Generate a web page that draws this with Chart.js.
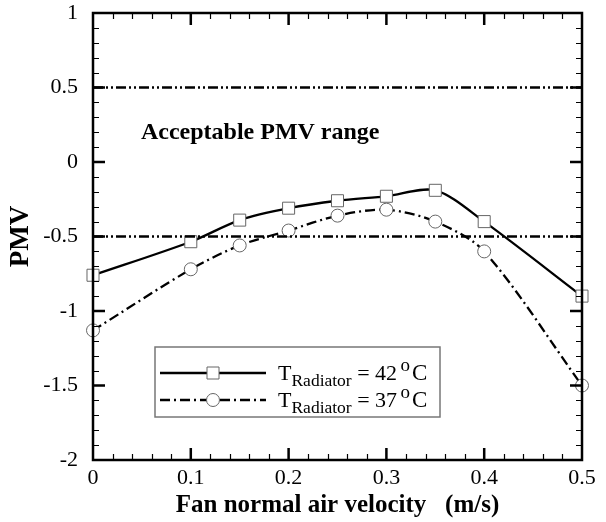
<!DOCTYPE html>
<html>
<head>
<meta charset="utf-8">
<script src="https://cdn.jsdelivr.net/npm/chart.js@4.4.0/dist/chart.umd.min.js"></script>
<style>
  html, body { margin: 0; padding: 0; background: #fff; }
  #wrap { width: 606px; height: 522px; }
</style>
</head>
<body>
<div id="wrap"><canvas id="pmvChart"></canvas></div>
<script>
// fan velocity (m/s) and PMV for both radiator temperatures
const velocity = [0, 0.1, 0.15, 0.2, 0.25, 0.3, 0.35, 0.4, 0.5]
const pmv42 = [-0.76, -0.535, -0.39, -0.31, -0.26, -0.23, -0.19, -0.40, -0.90]
const pmv37 = [-1.13, -0.72, -0.56, -0.46, -0.36, -0.32, -0.40, -0.60, -1.50]

// acceptable range limits
const limitX = [0, 0.5]
const upperLimit = [0.5, 0.5]
const lowerLimit = [-0.5, -0.5]

const legendTemps = ['42', '37']

const serif = "'Liberation Serif', 'Times New Roman', serif"
Chart.defaults.font.family = serif
Chart.defaults.color = '#000'

const toXY = (xs, ys) => xs.map((x, i) => ({x: x, y: ys[i]}))

const DASH_DOT = [10, 4, 2, 4]
const DASH_DOT_DOT = [10, 3, 2, 3, 2, 3]

// frame with inward ticks on all four sides, plus the text bits
const framePlugin = {
  id: 'framePlugin',
  afterDatasetsDraw(chart) {
    const {ctx, chartArea: a, scales: {x, y}} = chart
    ctx.save()
    ctx.strokeStyle = '#000'

    // minor ticks
    ctx.lineWidth = 1.2
    ctx.beginPath()
    for (let i = 0; i <= 25; i++) {
      if (i % 5 === 0) continue
      const px = Math.round(x.getPixelForValue(i * 0.02)) + 0.5
      ctx.moveTo(px, a.bottom); ctx.lineTo(px, a.bottom - 6)
      ctx.moveTo(px, a.top); ctx.lineTo(px, a.top + 6)
    }
    for (let i = 0; i <= 30; i++) {
      if (i % 5 === 0) continue
      const py = Math.round(y.getPixelForValue(-2 + i * 0.1)) + 0.5
      ctx.moveTo(a.left, py); ctx.lineTo(a.left + 6, py)
      ctx.moveTo(a.right, py); ctx.lineTo(a.right - 6, py)
    }
    ctx.stroke()

    // major ticks
    ctx.lineWidth = 2.5
    ctx.beginPath()
    for (let i = 1; i < 5; i++) {
      const px = x.getPixelForValue(i * 0.1)
      ctx.moveTo(px, a.bottom); ctx.lineTo(px, a.bottom - 12)
      ctx.moveTo(px, a.top); ctx.lineTo(px, a.top + 12)
    }
    for (let i = 1; i < 6; i++) {
      const py = y.getPixelForValue(-2 + i * 0.5)
      ctx.moveTo(a.left, py); ctx.lineTo(a.left + 12, py)
      ctx.moveTo(a.right, py); ctx.lineTo(a.right - 12, py)
    }
    ctx.stroke()

    ctx.lineWidth = 2.5
    ctx.strokeRect(a.left, a.top, a.right - a.left, a.bottom - a.top)

    // range label
    ctx.fillStyle = '#000'
    ctx.font = 'bold 24px ' + serif
    ctx.textBaseline = 'alphabetic'
    ctx.fillText('Acceptable PMV range', x.getPixelForValue(0.049), y.getPixelForValue(0.153))

    // legend box
    const bx = a.left + 62, by = a.top + 334, bw = 285, bh = 70
    ctx.fillStyle = '#fff'
    ctx.fillRect(bx, by, bw, bh)
    ctx.strokeStyle = '#777'
    ctx.lineWidth = 1.5
    ctx.strokeRect(bx, by, bw, bh)

    const rows = [
      {dy: 26, dash: [], marker: 'rect'},
      {dy: 53, dash: DASH_DOT, marker: 'circle'}
    ]
    rows.forEach((r, i) => {
      const ly = by + r.dy
      ctx.strokeStyle = '#000'
      ctx.lineWidth = 2.3
      ctx.setLineDash(r.dash)
      ctx.beginPath()
      ctx.moveTo(bx + 5, ly); ctx.lineTo(bx + 111, ly)
      ctx.stroke()
      ctx.setLineDash([])
      ctx.fillStyle = '#fff'
      ctx.strokeStyle = '#666'
      ctx.lineWidth = 1
      const mx = bx + 58
      ctx.beginPath()
      if (r.marker === 'rect') ctx.rect(mx - 6, ly - 6, 12, 12)
      else ctx.arc(mx, ly, 6.5, 0, Math.PI * 2)
      ctx.fill(); ctx.stroke()

      const base = ly + 7
      let tx = bx + 123
      ctx.fillStyle = '#000'
      ctx.font = '22px ' + serif
      ctx.fillText('T', tx, base)
      tx += ctx.measureText('T').width
      ctx.font = '17.5px ' + serif
      ctx.fillText('Radiator', tx, base + 6)
      tx += ctx.measureText('Radiator').width
      ctx.font = '22px ' + serif
      const mid = ' = ' + legendTemps[i] + ' '
      ctx.fillText(mid, tx, base)
      tx += ctx.measureText(mid).width - 2
      ctx.font = '19px ' + serif
      ctx.fillText('o', tx, base - 9)
      tx += ctx.measureText('o').width + 2
      ctx.font = '23px ' + serif
      ctx.fillText('C', tx, base)
    })
    ctx.restore()
  }
}

const config = {
  type: 'line',
  data: {
    datasets: [
      {
        label: 'upper limit',
        data: toXY(limitX, upperLimit),
        borderColor: '#000',
        borderWidth: 2.5,
        borderDash: DASH_DOT_DOT,
        pointRadius: 0
      },
      {
        label: 'lower limit',
        data: toXY(limitX, lowerLimit),
        borderColor: '#000',
        borderWidth: 2.5,
        borderDash: DASH_DOT_DOT,
        pointRadius: 0
      },
      {
        label: 'T Radiator = 42 oC',
        data: toXY(velocity, pmv42),
        borderColor: '#000',
        borderWidth: 2.3,
        tension: 0.3,
        pointStyle: 'rect',
        pointRadius: 8.5,
        pointBackgroundColor: '#fff',
        pointBorderColor: '#666',
        pointBorderWidth: 1,
        clip: false
      },
      {
        label: 'T Radiator = 37 oC',
        data: toXY(velocity, pmv37),
        borderColor: '#000',
        borderWidth: 2.3,
        borderDash: DASH_DOT,
        tension: 0.3,
        pointStyle: 'circle',
        pointRadius: 6.5,
        pointBackgroundColor: '#fff',
        pointBorderColor: '#666',
        pointBorderWidth: 1,
        clip: false
      }
    ]
  },
  options: {
    responsive: true,
    maintainAspectRatio: false,
    animation: false,
    layout: { padding: { top: 13, right: 24, left: 0, bottom: 0 } },
    plugins: {
      legend: { display: false },
      tooltip: { enabled: false }
    },
    scales: {
      x: {
        type: 'linear',
        min: 0,
        max: 0.5,
        afterFit: s => { s.height = 62; s.paddingLeft = 0; s.paddingRight = 0 },
        grid: { display: false, drawTicks: false },
        border: { display: false },
        ticks: { stepSize: 0.1, padding: 5, font: { size: 22 }, maxRotation: 0 },
        title: {
          display: true,
          text: 'Fan normal air velocity   (m/s)',
          font: { size: 25, weight: 'bold' },
          padding: { top: 0, bottom: 1 }
        }
      },
      y: {
        min: -2,
        max: 1,
        afterFit: s => { s.width = 93; s.paddingTop = 0; s.paddingBottom = 0 },
        grid: { display: false, drawTicks: false },
        border: { display: false },
        ticks: { stepSize: 0.5, padding: 15, font: { size: 22 }, callback: v => String(v) },
        title: {
          display: true,
          text: 'PMV',
          font: { size: 27, weight: 'bold' },
          padding: { top: 5, bottom: 0 }
        }
      }
    }
  },
  plugins: [framePlugin]
}

const pmvChart = new Chart(document.getElementById('pmvChart').getContext('2d'), config)
</script>
</body>
</html>
